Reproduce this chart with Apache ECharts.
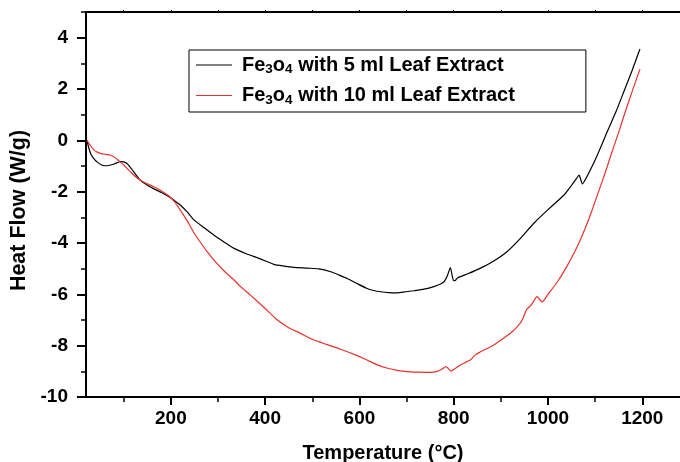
<!DOCTYPE html>
<html>
<head>
<meta charset="utf-8">
<script src="https://cdn.jsdelivr.net/npm/echarts@6/dist/echarts.min.js"></script>
<style>html,body{margin:0;padding:0;background:#fff;}#c{width:680px;height:462px;}</style>
</head>
<body>
<div id="c"></div>
<script>
var seriesNames = ['Fe3o4 with 5 ml Leaf Extract', 'Fe3o4 with 10 ml Leaf Extract'];
var xMajorTicks = [200, 400, 600, 800, 1000, 1200];
var xMinorTicks = [100, 300, 500, 700, 900, 1100];
var yMajorTicks = [-10, -8, -6, -4, -2, 0, 2, 4];
var yMinorTicks = [-9, -7, -5, -3, -1, 1, 3, 5];

var black5ml = [[22,0],[26,-0.3],[30,-0.52],[37,-0.72],[44,-0.85],[52,-0.95],[60,-0.99],[70,-0.97],[80,-0.92],[93,-0.83],[100,-0.84],[107,-0.9],[114,-1.05],[121,-1.22],[135,-1.55],[150,-1.75],[165,-1.9],[180,-2.03],[196,-2.2],[210,-2.38],[220,-2.52],[235,-2.8],[249,-3.1],[270,-3.4],[291,-3.69],[312,-3.95],[334,-4.21],[360,-4.42],[390,-4.62],[418,-4.83],[440,-4.9],[461,-4.95],[490,-4.98],[514,-5.01],[539,-5.12],[556,-5.24],[574,-5.38],[595,-5.58],[616,-5.77],[630,-5.85],[645,-5.9],[662,-5.93],[680,-5.94],[698,-5.9],[715,-5.86],[737,-5.8],[758,-5.7],[772,-5.6],[780,-5.5],[786,-5.3],[793,-4.96],[797,-5.3],[800,-5.47],[804,-5.45],[808,-5.36],[830,-5.2],[857,-4.98],[885,-4.7],[913,-4.34],[940,-3.85],[970,-3.23],[1000,-2.7],[1034,-2.13],[1050,-1.75],[1060,-1.5],[1066,-1.35],[1069,-1.5],[1073,-1.7],[1080,-1.5],[1090,-1.15],[1104,-0.6],[1118,0],[1126,0.35],[1145,1.15],[1161,1.9],[1178,2.7],[1195,3.56]];

var red10ml = [[22,0],[30,-0.22],[37,-0.38],[45,-0.47],[52,-0.52],[62,-0.55],[72,-0.58],[80,-0.65],[86,-0.74],[93,-0.85],[100,-0.96],[114,-1.22],[129,-1.48],[145,-1.65],[164,-1.81],[180,-1.97],[196,-2.17],[208,-2.4],[220,-2.72],[235,-3.15],[249,-3.6],[263,-3.98],[277,-4.34],[291,-4.66],[312,-5.07],[334,-5.44],[348,-5.7],[370,-6.05],[400,-6.55],[426,-7.0],[450,-7.3],[475,-7.52],[500,-7.75],[530,-7.95],[560,-8.14],[590,-8.35],[615,-8.55],[638,-8.75],[660,-8.88],[680,-8.96],[701,-9.01],[725,-9.03],[751,-9.04],[765,-9.0],[775,-8.92],[783,-8.82],[788,-8.88],[794,-8.99],[800,-8.93],[814,-8.75],[835,-8.56],[846,-8.35],[857,-8.24],[885,-7.97],[905,-7.72],[924,-7.46],[940,-7.15],[947,-6.93],[954,-6.61],[965,-6.4],[977,-6.09],[983,-6.22],[988,-6.29],[1000,-6.0],[1020,-5.51],[1038,-4.98],[1055,-4.4],[1068,-3.9],[1080,-3.38],[1090,-2.9],[1100,-2.38],[1115,-1.6],[1126,-1.0],[1137,-0.38],[1150,0.32],[1161,0.95],[1178,1.88],[1195,2.77]];

var FONT = 'Liberation Sans, Arial, sans-serif';
var chart = echarts.init(document.getElementById('c'), null, {renderer: 'canvas'});

function legendFmt(name) {
  var rest = name.replace('Fe3o4', '');
  return '{n|Fe}{s|3}{n|o}{s|4}{n|' + rest + '}';
}
function plainNum(v) { return String(v); }

chart.setOption({
  animation: false,
  backgroundColor: '#fff',
  grid: {left: 86, right: 0, top: 12, bottom: 65, containLabel: false, outerBoundsMode: 'none'},
  legend: {
    left: 189, top: 50, orient: 'vertical',
    data: seriesNames,
    icon: 'rect',
    itemWidth: 36, itemHeight: 1.2, itemGap: 9,
    padding: [5, 71, 5, 7],
    borderColor: '#000', borderWidth: 1, backgroundColor: '#fff',
    formatter: legendFmt,
    textStyle: {
      padding: [0, 0, 0, 5],
      rich: {
        n: {fontSize: 20, fontWeight: 'bold', fontFamily: FONT, color: '#000', lineHeight: 23},
        s: {fontSize: 13.5, fontWeight: 'bold', fontFamily: FONT, color: '#000', lineHeight: 10, verticalAlign: 'bottom'}
      }
    }
  },
  xAxis: [
    {
      type: 'value', position: 'bottom', min: 20, max: 1280,
      name: 'Temperature (°C)', nameLocation: 'middle', nameGap: 46,
      nameTextStyle: {fontSize: 20, fontWeight: 'bold', fontFamily: FONT, color: '#000'},
      axisLine: {show: true, onZero: false, lineStyle: {color: '#000', width: 2}},
      axisTick: {show: true, customValues: xMajorTicks, length: 8, lineStyle: {color: '#000', width: 2}},
      axisLabel: {show: true, customValues: xMajorTicks, formatter: plainNum, margin: 12, fontSize: 19, fontWeight: 'bold', fontFamily: FONT, color: '#000'},
      splitLine: {show: false}
    },
    {
      type: 'value', position: 'bottom', min: 20, max: 1280,
      axisLine: {show: false, onZero: false},
      axisTick: {show: true, customValues: xMinorTicks, length: 5, lineStyle: {color: '#000', width: 1.5}},
      axisLabel: {show: false},
      splitLine: {show: false}
    },
    {
      type: 'value', position: 'top', min: 20, max: 1280,
      axisLine: {show: true, onZero: false, lineStyle: {color: '#000', width: 2}},
      axisTick: {show: true, customValues: xMajorTicks.concat(xMinorTicks), length: 2, lineStyle: {color: '#000', width: 1}},
      axisLabel: {show: false},
      splitLine: {show: false}
    }
  ],
  yAxis: [
    {
      type: 'value', position: 'left', min: -10, max: 5,
      name: 'Heat Flow (W/g)', nameLocation: 'middle', nameGap: 53, nameRotate: 90,
      nameTextStyle: {fontSize: 21.5, fontWeight: 'bold', fontFamily: FONT, color: '#000', padding: [0, 12, 0, 0]},
      axisLine: {show: true, onZero: false, lineStyle: {color: '#000', width: 2}},
      axisTick: {show: true, customValues: yMajorTicks, length: 9, lineStyle: {color: '#000', width: 2}},
      axisLabel: {show: true, customValues: yMajorTicks, formatter: plainNum, margin: 18, fontSize: 19, fontWeight: 'bold', fontFamily: FONT, color: '#000'},
      splitLine: {show: false}
    },
    {
      type: 'value', position: 'left', min: -10, max: 5,
      axisLine: {show: false, onZero: false},
      axisTick: {show: true, customValues: yMinorTicks, length: 5, lineStyle: {color: '#000', width: 1.5}},
      axisLabel: {show: false},
      splitLine: {show: false}
    }
  ],
  series: [
    {
      name: seriesNames[0], type: 'line', xAxisIndex: 0, yAxisIndex: 0,
      data: black5ml, symbol: 'none', showSymbol: false, smooth: 0.2,
      lineStyle: {color: '#000', width: 1.2}, itemStyle: {color: '#000'}
    },
    {
      name: seriesNames[1], type: 'line', xAxisIndex: 0, yAxisIndex: 0,
      data: red10ml, symbol: 'none', showSymbol: false, smooth: 0.2,
      lineStyle: {color: '#e8322b', width: 1.2}, itemStyle: {color: '#e8322b'}
    }
  ]
});
</script>
</body>
</html>
